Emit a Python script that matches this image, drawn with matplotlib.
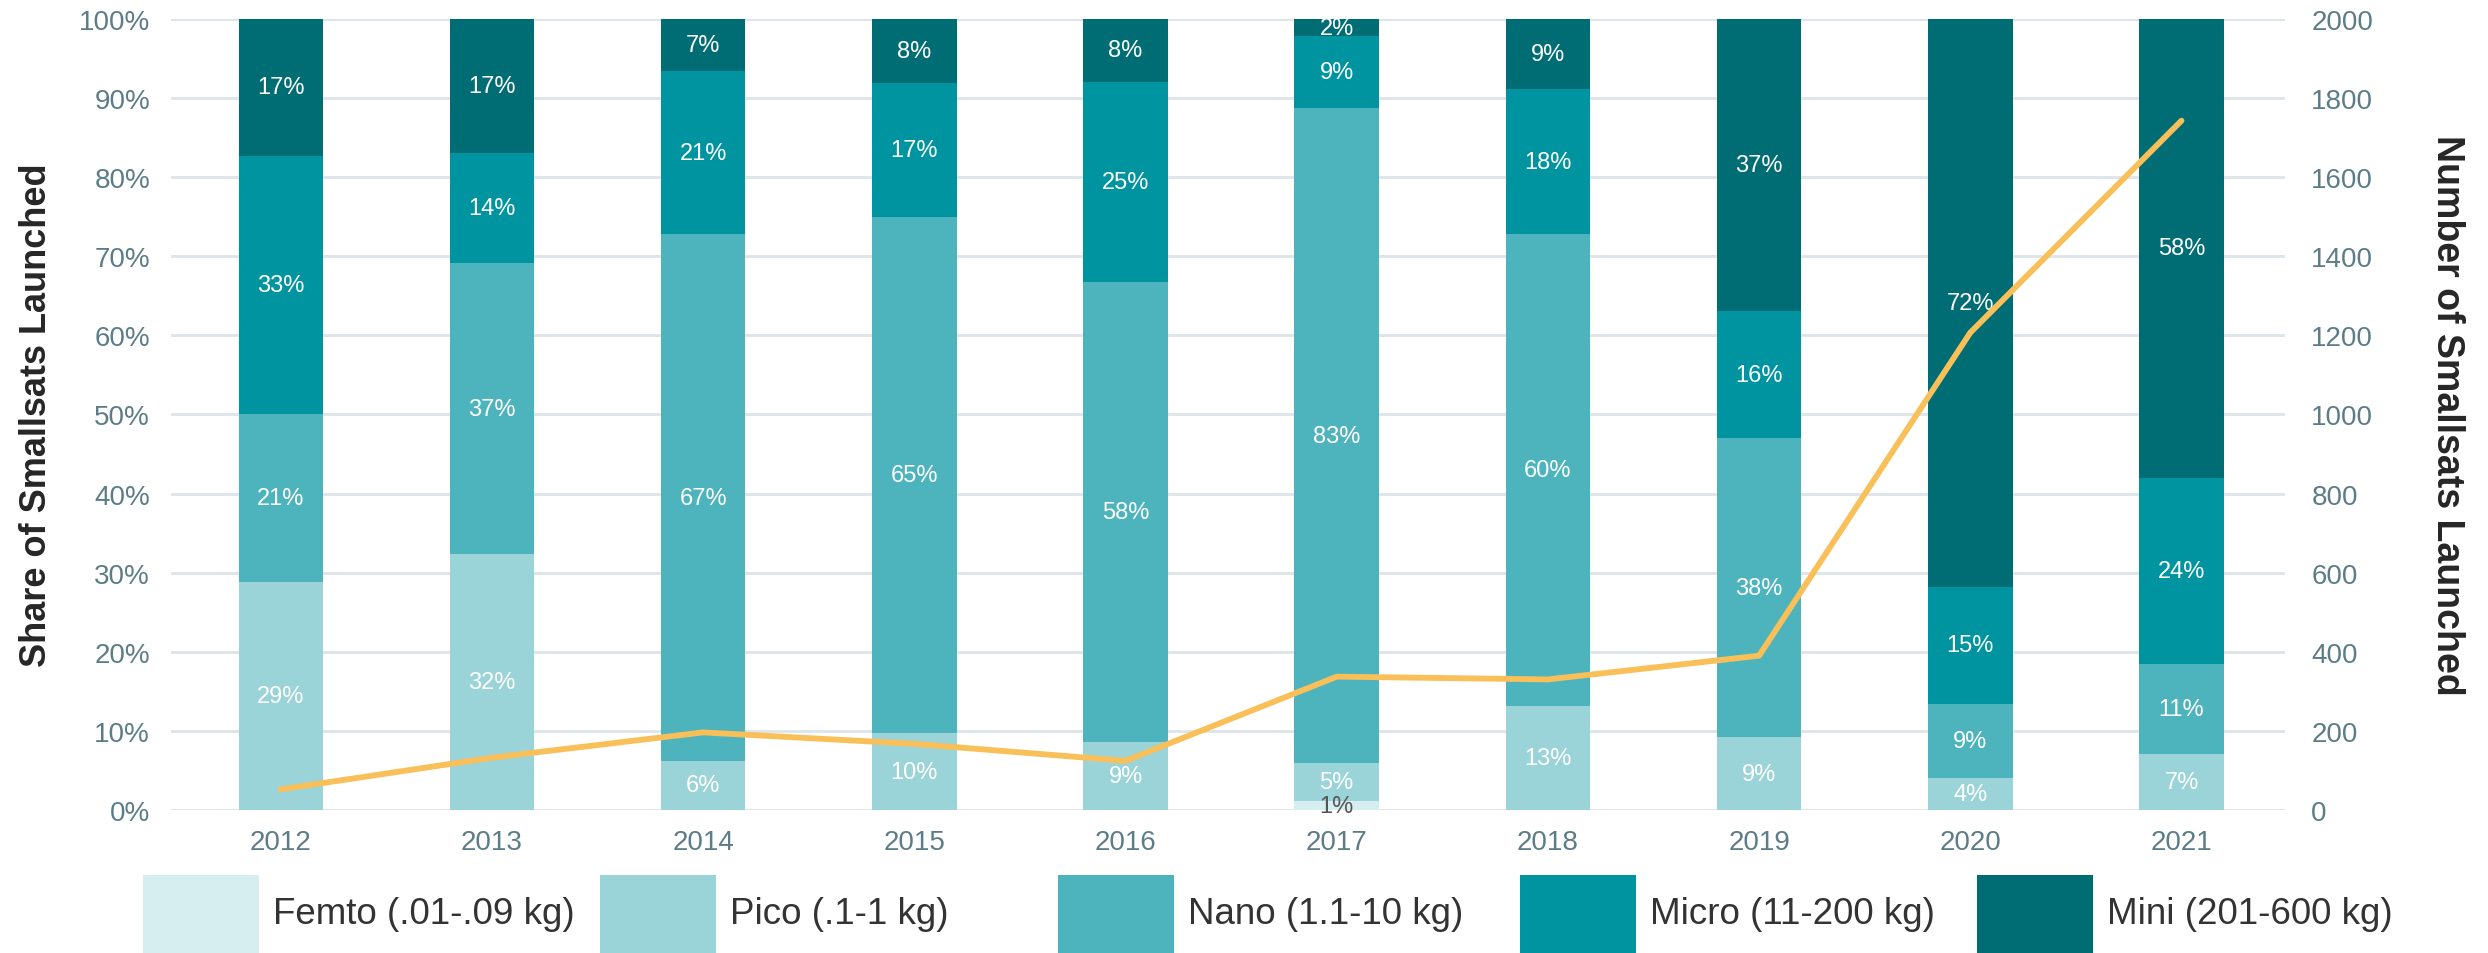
import numpy as np
import matplotlib
matplotlib.use("Agg")
import matplotlib.pyplot as plt
from matplotlib.patches import Rectangle

plt.rcParams['font.family'] = ['Liberation Sans', 'DejaVu Sans']

# data (percent share per mass class, and total count)
years = ['2012', '2013', '2014', '2015', '2016', '2017', '2018', '2019', '2020', '2021']
femto = [0, 0, 0, 0, 0, 1.1, 0, 0, 0, 0]
pico = [28.8, 32.3, 6.2, 9.7, 8.6, 4.8, 13.1, 9.2, 4.0, 7.1]
nano = [21.2, 36.9, 66.6, 65.3, 58.1, 82.8, 59.7, 37.8, 9.4, 11.3]
micro = [32.7, 13.9, 20.6, 16.9, 25.4, 9.1, 18.3, 16.1, 14.8, 23.6]
mini = [17.3, 16.9, 6.6, 8.1, 7.9, 2.2, 8.9, 36.9, 71.8, 58.0]
launched = [52, 132, 196, 167, 124, 337, 330, 390, 1207, 1743]

classes = ['Femto (.01-.09 kg)', 'Pico (.1-1 kg)', 'Nano (1.1-10 kg)',
           'Micro (11-200 kg)', 'Mini (201-600 kg)']
colors = ['#d6eef0', '#9bd4d8', '#4db3bd', '#0094a0', '#006d74']
label_colors = ['#555555', 'white', 'white', 'white', 'white']

tick_col = '#5c7d88'
grid_col = '#dde5e8'

fig = plt.figure(figsize=(24.88, 9.54), dpi=100)
ax = fig.add_axes([0.0687, 0.150, 0.8497, 0.829])

x = np.arange(len(years))
bottom = np.zeros(len(years))
for vals, c, lc in zip([femto, pico, nano, micro, mini], colors, label_colors):
    vals = np.array(vals)
    ax.bar(x, vals, 0.4, bottom=bottom, color=c, zorder=2)
    for xi, b, v in zip(x, bottom, vals):
        if v > 0:
            ax.text(xi, b + v / 2, f"{v:.0f}%", ha='center', va='center',
                    color=lc, fontsize=17, zorder=3)
    bottom += vals

ax.set_ylim(0, 100)
ax.set_xlim(-0.52, 9.49)
ax.set_yticks(np.arange(0, 101, 10))
ax.set_yticklabels([f"{v}%" for v in range(0, 101, 10)])
ax.set_xticks(x)
ax.set_xticklabels(years)
ax.grid(axis='y', color=grid_col, linewidth=2, zorder=0)
ax.set_axisbelow(True)
for s in ax.spines.values():
    s.set_visible(False)
ax.tick_params(axis='y', length=0, pad=15, labelsize=20, labelcolor=tick_col)
ax.tick_params(axis='x', length=0, pad=14, labelsize=20, labelcolor=tick_col)
ax.set_ylabel('Share of Smallsats Launched', fontsize=26, fontweight='bold',
              color='#262626', labelpad=18)

ax2 = ax.twinx()
ax2.plot(x, launched, color='#f9bf58', linewidth=4.2, zorder=5,
         solid_capstyle='round')
ax2.set_ylim(0, 2000)
ax2.set_yticks(np.arange(0, 2001, 200))
for s in ax2.spines.values():
    s.set_visible(False)
ax2.tick_params(axis='y', length=0, pad=19, labelsize=20, labelcolor=tick_col)
ax2.set_ylabel('Number of Smallsats Launched', fontsize=27, fontweight='bold',
               color='#262626', rotation=270, labelpad=66,
               family=['Liberation Sans Narrow', 'Liberation Sans'])

# legend drawn by hand: big swatches running off the bottom edge
W, H = 2488.0, 954.0
box_left = [143, 600, 1058, 1520, 1977]
for bx, c, name in zip(box_left, colors, classes):
    fig.add_artist(Rectangle((bx / W, 0), 116 / W, (H - 876) / H,
                             transform=fig.transFigure, color=c, lw=0))
    fig.text((bx + 130) / W, 1 - 915 / H, name, fontsize=26.5,
             color='#333333', va='center', ha='left')

fig.savefig('out.png', dpi=100)
